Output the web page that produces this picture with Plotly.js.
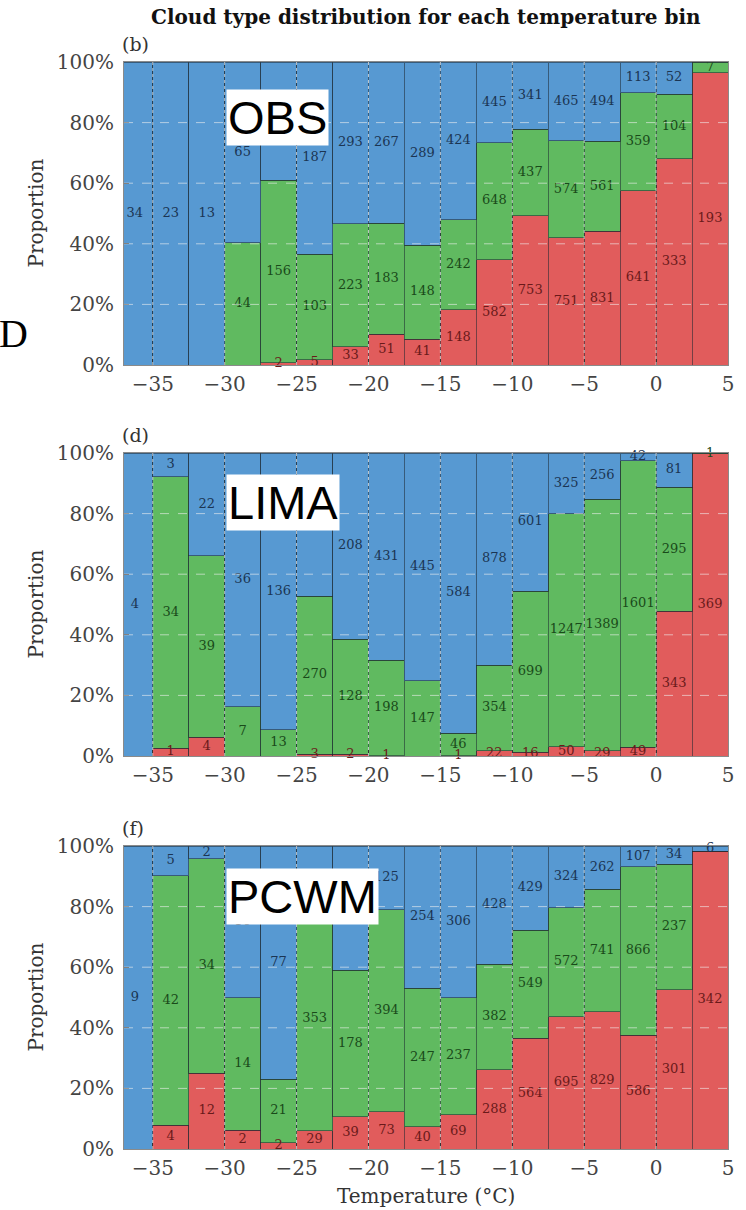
<!DOCTYPE html>
<html>
<head>
<meta charset="utf-8">
<script src="https://cdn.plot.ly/plotly-3.0.1.min.js"></script>
<style>html,body{margin:0;padding:0;background:#fff;}#chart{width:746px;height:1210px;}</style>
</head>
<body>
<div id="chart"></div>
<script>
// ---- data ----
const binCenters = [-36.25,-33.75,-31.25,-28.75,-26.25,-23.75,-21.25,-18.75,-16.25,-13.75,-11.25,-8.75,-6.25,-3.75,-1.25,1.25,3.75];
const binWidth = 2.5;

const obsBlue  = [34,23,13,65,101,187,293,267,289,424,445,341,465,494,113,52,0];
const obsGreen = [0,0,0,44,156,103,223,183,148,242,648,437,574,561,359,104,7];
const obsRed   = [0,0,0,0,2,5,33,51,41,148,582,753,751,831,641,333,193];

const limaBlue  = [4,3,22,36,136,244,208,431,445,584,878,601,325,256,42,81,0];
const limaGreen = [0,34,39,7,13,270,128,198,147,46,354,699,1247,1389,1601,295,1];
const limaRed   = [0,1,4,0,0,3,2,1,0,1,22,16,50,29,49,343,369];

const pcwmBlue  = [9,5,2,16,77,95,151,125,254,306,428,429,324,262,107,34,6];
const pcwmGreen = [0,42,34,14,21,353,178,394,247,237,382,549,572,741,866,237,0];
const pcwmRed   = [0,4,12,2,2,29,39,73,40,69,288,564,695,829,586,301,342];

const xTickVals = [-35,-30,-25,-20,-15,-10,-5,0,5];
const xTickText = ['\u221235','\u221230','\u221225','\u221220','\u221215','\u221210','\u22125','0','5'];
const yTickVals = [0,0.2,0.4,0.6,0.8,1.0];
const yTickText = ['0%','20%','40%','60%','80%','100%'];
const panelTags = ['(b)','(d)','(f)'];
const modelNames = ['OBS','LIMA','PCWM'];

// ---- style ----
const SERIF = 'DejaVu Serif';
const colBlue = '#5799d2', colGreen = '#60ba60', colRed = '#e15c5c';
const txtBlue = '#1b3553', txtGreen = '#1a4a1a', txtRed = '#6a1a1a';

const W = 746, H = 1210;
const M = {l:124, r:18, t:62, b:61};
const plotH = H - M.t - M.b, plotW = W - M.l - M.r;
const py = p => (H - M.b - p) / plotH;
const px = p => (p - M.l) / plotW;

// panel pixel extents (top, bottom)
const panelPix = [[62,365],[453,756],[846,1149]];

const panels = [
  {blue: obsBlue, green: obsGreen, red: obsRed},
  {blue: limaBlue, green: limaGreen, red: limaRed},
  {blue: pcwmBlue, green: pcwmGreen, red: pcwmRed}
];

const traces = [];
const layout = {
  width: W, height: H,
  margin: M,
  paper_bgcolor: '#fff', plot_bgcolor: '#fff',
  barmode: 'stack', bargap: 0,
  showlegend: false,
  font: {family: SERIF, color: '#333'},
  annotations: [], shapes: []
};

panels.forEach((p, i) => {
  const sfx = i === 0 ? '' : String(i+1);
  const xa = 'x' + sfx, ya = 'y' + sfx;
  const totals = binCenters.map((_, k) => p.blue[k] + p.green[k] + p.red[k]);
  const series = [
    {vals: p.red, col: colRed, tcol: txtRed},
    {vals: p.green, col: colGreen, tcol: txtGreen},
    {vals: p.blue, col: colBlue, tcol: txtBlue}
  ];
  const base = binCenters.map(() => 0);
  series.forEach(s => {
    const frac = s.vals.map((v, k) => totals[k] ? v / totals[k] : 0);
    traces.push({
      type: 'bar', x: binCenters, y: frac, width: binWidth,
      xaxis: xa, yaxis: ya,
      marker: {color: s.col, line: {color: 'rgba(30,40,50,0.55)', width: 1}},
      hoverinfo: 'skip'
    });
    const tx = [], ty = [], tt = [];
    frac.forEach((f, k) => {
      if (s.vals[k] > 0) {
        tx.push(binCenters[k]); ty.push(base[k] + f / 2); tt.push(String(s.vals[k]));
      }
      base[k] += f;
    });
    traces.push({
      type: 'scatter', mode: 'text', x: tx, y: ty, text: tt,
      xaxis: xa, yaxis: ya, cliponaxis: false,
      textfont: {family: SERIF, size: 13, color: s.tcol},
      textposition: 'middle center', hoverinfo: 'skip'
    });
  });

  const [pt, pb] = panelPix[i];
  layout['xaxis' + sfx] = {
    domain: [0, 1], range: [-37, 5], anchor: ya,
    tickmode: 'array', tickvals: xTickVals, ticktext: xTickText,
    ticks: 'inside', ticklen: 6, tickwidth: 1, tickcolor: '#333',
    showline: true, mirror: true, linecolor: '#8a8a8a', linewidth: 1,
    showgrid: false, zeroline: false, ticklabelstandoff: 1,
    tickfont: {family: SERIF, size: 20, color: '#444'}
  };
  layout['yaxis' + sfx] = {
    domain: [py(pb), py(pt)], range: [0, 1], anchor: xa,
    tickmode: 'array', tickvals: yTickVals, ticktext: yTickText,
    ticks: 'inside', ticklen: 5, tickwidth: 1, tickcolor: '#333',
    showline: true, mirror: true, linecolor: '#8a8a8a', linewidth: 1,
    showgrid: false, zeroline: false, ticklabelstandoff: 5,
    tickfont: {family: SERIF, size: 20, color: '#444'}
  };
  // grid lines drawn above bars
  xTickVals.slice(0, -1).forEach(v => layout.shapes.push({
    type: 'line', layer: 'above', xref: xa, yref: ya, x0: v, x1: v, y0: 0, y1: 1,
    line: {color: 'rgba(235,235,235,0.75)', width: 1, dash: 'dot'}
  }));
  yTickVals.slice(1, -1).forEach(v => layout.shapes.push({
    type: 'line', layer: 'above', xref: xa + ' domain', yref: ya, x0: 0, x1: 1, y0: v, y1: v,
    line: {color: 'rgba(240,240,240,0.6)', width: 1, dash: 'dash'}
  }));
  // panel tag
  layout.annotations.push({
    text: panelTags[i], xref: 'paper', yref: 'paper', x: px(120), y: py(pt - 18),
    xanchor: 'left', yanchor: 'middle', showarrow: false,
    font: {family: SERIF, size: 19, color: '#333'}
  });
  // y title
  layout.annotations.push({
    text: 'Proportion', xref: 'paper', yref: 'paper', x: px(35), y: py((pt + pb) / 2),
    xanchor: 'center', yanchor: 'middle', textangle: -90, showarrow: false,
    font: {family: SERIF, size: 20, color: '#333'}
  });
});

// model name boxes
const boxPix = [[226, 89], [226, 474], [226, 868]];
modelNames.forEach((n, i) => layout.annotations.push({
  text: n, xref: 'paper', yref: 'paper', x: px(boxPix[i][0]), y: py(boxPix[i][1]),
  xanchor: 'left', yanchor: 'top', showarrow: false, bgcolor: '#ffffff', borderpad: 1,
  font: {family: 'Liberation Sans', size: 47, color: '#000'}
}));

// title
layout.annotations.push({
  text: '<b>Cloud type distribution for each temperature bin</b>', xref: 'paper', yref: 'paper',
  x: px(426), y: py(17), xanchor: 'center', yanchor: 'middle', showarrow: false,
  font: {family: SERIF, size: 20, color: '#111'}
});
// x title
layout.annotations.push({
  text: 'Temperature (\u00b0C)', xref: 'paper', yref: 'paper',
  x: px(426), y: py(1196), xanchor: 'center', yanchor: 'middle', showarrow: false,
  font: {family: SERIF, size: 20, color: '#333'}
});
// stray letter
layout.annotations.push({
  text: 'D', xref: 'paper', yref: 'paper',
  x: px(13), y: py(333), xanchor: 'center', yanchor: 'middle', showarrow: false,
  font: {family: 'Liberation Serif', size: 40, color: '#000'}
});

Plotly.newPlot('chart', traces, layout, {displayModeBar: false, staticPlot: true});
</script>
</body>
</html>
